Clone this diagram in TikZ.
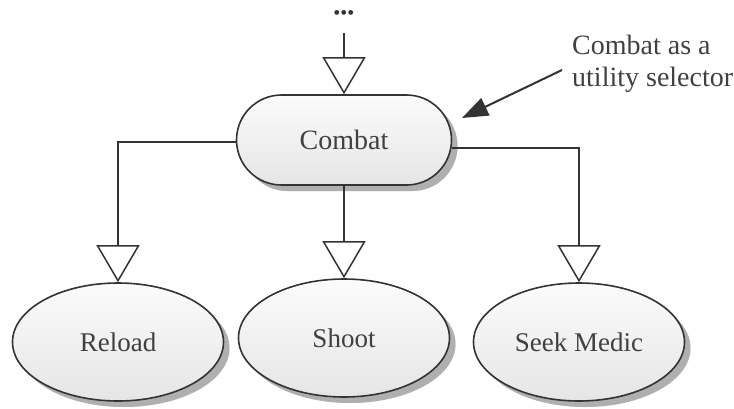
\documentclass[tikz,border=0pt]{standalone}
\usepackage{fontspec}
\setmainfont{Liberation Serif}
\usetikzlibrary{shapes.misc,shapes.geometric,arrows.meta,shadows}
\definecolor{lc}{HTML}{333333}
\definecolor{tc}{HTML}{404040}
\tikzset{
  base/.style={draw=lc, line width=1.6pt, top color=gray!3, bottom color=gray!20,
    drop shadow={shadow xshift=6pt, shadow yshift=-6pt, top color=gray!70, bottom color=gray!70, draw=none, opacity=0.55},
    text=tc, font=\fontsize{27}{29}\selectfont, inner sep=0pt},
  selbox/.style={base, rounded rectangle, minimum width=215pt, minimum height=90pt},
  leaf/.style={base, ellipse, minimum width=211pt, minimum height=118pt},
  link/.style={draw=lc, line width=1.5pt, -{Triangle[open, length=37pt, width=43pt, line width=1.5pt]}},
  notearrow/.style={draw=lc, line width=2pt, -{Triangle[length=26pt, width=19pt]}}
}
\begin{document}
\begin{tikzpicture}[x=1pt, y=-1pt]
\useasboundingbox (0,0) rectangle (734,408);
\node[text=lc, font=\fontsize{20}{20}\selectfont, inner sep=0pt] (dots) at (344,15) {•••};
\coordinate (top) at (344,33);
\node[selbox, font=\fontsize{28}{30}\selectfont] (combat) at (344,140) {Combat};
\node[leaf] (reload) at (118,342) {Reload};
\node[leaf] (shoot) at (344,338) {Shoot};
\node[leaf] (medic) at (579,342) {Seek Medic};
\node[text=tc, font=\fontsize{28}{32}\selectfont, align=left, anchor=west, inner sep=0pt] (note) at (572,64) {Combat as a\\utility selector};
\coordinate (tip) at (462,118);
\draw[link] (top) -- (combat.north);
\draw[link] ([yshift=-2pt]combat.west) -| (reload.north);
\draw[link] (combat.south) -- (shoot.north);
\draw[link] ([yshift=-8pt]combat.east) -| (medic.north);
\draw[notearrow] ([xshift=-10pt,yshift=-6pt]note.west) -- (tip);
\end{tikzpicture}
\end{document}
